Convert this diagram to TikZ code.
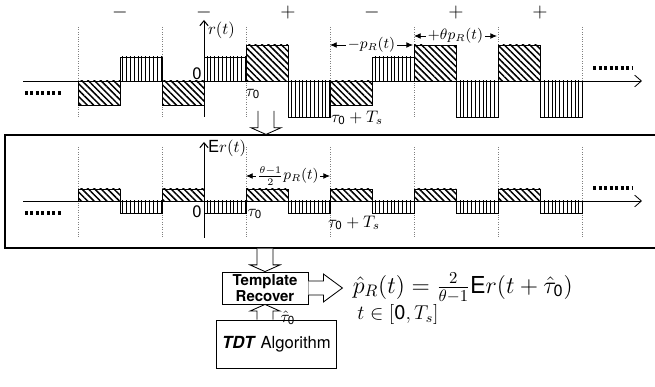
\documentclass[tikz,border=0pt]{standalone}
\usepackage{amsmath}
\usepackage{fontspec}
\setsansfont{TeX Gyre Heros}
\usepackage{tikz}
\usetikzlibrary{arrows.meta,calc,patterns.meta,positioning}
\newcommand\zerosf{\text{\sffamily 0}}
\newcommand\Esf{\text{\sffamily E}}
\tikzset{
  diagbar/.style={draw, line width=0.5pt, pattern={Lines[angle=-45,distance=2.7pt,line width=0.9pt]}},
  vertbar/.style={draw, line width=0.5pt, pattern={Lines[angle=90,distance=2.3pt,line width=0.45pt]}},
  slotline/.style={draw=gray, densely dotted, line width=0.45pt},
  timeaxis/.style={-{Straight Barb[length=4pt,width=7pt]}, line width=0.5pt},
  ampaxis/.style={-{Straight Barb[length=3pt,width=5pt]}, line width=0.6pt},
  moredots/.style={line width=1.9pt, dash pattern=on 1.8pt off 1.5pt},
  spanarrow/.style={{Latex[length=4pt,width=3.5pt]}-{Latex[length=4pt,width=3.5pt]}, line width=0.5pt},
  spanlabel/.style={fill=white, inner sep=1pt, font=\small},
  framebox/.style={draw, line width=0.7pt},
  procbox/.style={draw, line width=0.5pt, align=center, font=\sffamily},
  blockv/.style={draw, line width=0.5pt, fill=white, to path={
      let \p1=(\tikztostart), \p2=(\tikztotarget),
          \p3=($(\tikztotarget)!4pt!(\tikztostart)$) in
      (\x1-4.8pt,\y1) -- (\x1-4.8pt,\y3) -- (\x1-9pt,\y3) -- (\x2,\y2)
      -- (\x1+9pt,\y3) -- (\x1+4.8pt,\y3) -- (\x1+4.8pt,\y1)}},
  blockh/.style={draw, line width=0.5pt, fill=white, to path={
      let \p1=(\tikztostart), \p2=(\tikztotarget),
          \p3=($(\tikztotarget)!11.4pt!(\tikztostart)$) in
      (\x1,\y1+4.2pt) -- (\x3,\y1+4.2pt) -- (\x3,\y1+8.4pt) -- (\x2,\y2)
      -- (\x3,\y1-8.4pt) -- (\x3,\y1-4.2pt) -- (\x1,\y1-4.2pt)}}
}

\begin{document}
\begin{tikzpicture}[x=0.6pt, y=-0.6pt]
  \useasboundingbox (0,0) rectangle (655,387);

  % received signal r(t)
  \foreach \x in {78,162,...,582} \draw[slotline] (\x,27) -- (\x,117);
  \foreach \x/\yd/\yv in {78/105/57, 162/105/57, 246/45/117, 330/105/57, 414/45/117, 498/45/117} {
    \draw[diagbar] (\x,81) rectangle (\x+42,\yd);
    \draw[vertbar] (\x+42,81) rectangle (\x+84,\yv);
  }
  \draw[timeaxis] (23,81) -- (642,81);
  \draw[ampaxis] (204,117) -- (204,20);
  \node[anchor=west, inner sep=1pt] (rlab) at (206,30) {$r(t)$};
  \foreach \x/\s [count=\i] in {120/-,204/-,288/+,372/-,456/+,540/+}
    \node[font=\large, inner sep=0pt] (sg\i) at (\x,13) {$\s$};
  \node (org1) at (197,74) {\sffamily 0};
  \node (tau1) at (253,94) {$\tau_{\zerosf}$};
  \node (tts1) at (357,118) {$\tau_{\zerosf}+T_s$};
  \draw[moredots] (25,93) -- (63,93);
  \draw[moredots] (593,68) -- (632,68);
  \draw[spanarrow] (330,45) -- node[spanlabel] (pneg) {$-p_R(t)$} (413,45);
  \draw[spanarrow] (414,36) -- node[spanlabel] (ppos) {$+\theta p_R(t)$} (497,36);

  % averaged signal Er(t)
  \node[framebox, minimum width=393pt, minimum height=67.8pt] (mid) at (332.5,191.5) {};
  \foreach \x in {78,162,...,582} \draw[slotline] (\x,147) -- (\x,238);
  \foreach \x in {78,162,...,498} {
    \draw[diagbar] (\x,201) rectangle (\x+42,189);
    \draw[vertbar] (\x+42,201) rectangle (\x+84,213);
  }
  \draw[timeaxis] (23,201) -- (642,201);
  \draw[ampaxis] (204,238) -- (204,142);
  \node[anchor=west, inner sep=1pt] (erlab) at (206,148) {$\Esf r(t)$};
  \node (org2) at (197,212) {\sffamily 0};
  \node (tau2) at (255,214) {$\tau_{\zerosf}$};
  \node (tts2) at (354,223) {$\tau_{\zerosf}+T_s$};
  \draw[moredots] (25,213) -- (63,213);
  \draw[moredots] (593,188) -- (632,188);
  \draw[spanarrow] (246,176) -- node[spanlabel] (pmid) {$\frac{\theta-1}{2}p_R(t)$} (330,176);

  % template recovery
  \node[procbox, font=\sffamily\bfseries\fontsize{9}{10}\selectfont, minimum width=51.6pt,
        minimum height=19.2pt, inner sep=1.2pt] (tmpl) at (265,288) {Template\\Recover};
  \node[procbox, minimum width=69pt, minimum height=28.8pt] (tdt) at (276.5,344) {\textbf{\textit{TDT}} Algorithm};

  \coordinate (sigbot) at (266,111);
  \coordinate (midtop) at (sigbot |- mid.north);
  \coordinate (midbot) at (mid.south -| tmpl.north);
  \coordinate (tdttop) at (tmpl.south |- tdt.north);
  \coordinate (est) at ($(tmpl.east)+(34,0)$);

  \draw[blockv] (sigbot) to (midtop);
  \draw[blockv] (midbot) to (tmpl.north);
  \draw[blockv] (tdttop) to (tmpl.south);
  \draw[blockh] (tmpl.east) to (est);

  \node (tauhat) at (288,318) {$\hat{\tau}_{\zerosf}$};
  \node[anchor=west, font=\fontsize{14}{16}\selectfont, inner sep=0pt] (pest) at ($(est)+(10,0)$)
    {$\hat{p}_R(t)=\frac{2}{\theta-1}\Esf r(t+\hat{\tau}_{\zerosf})$};
  \node[font=\large] (trng) at (398,315) {$t\in[\zerosf,T_s]$};
\end{tikzpicture}
\end{document}
